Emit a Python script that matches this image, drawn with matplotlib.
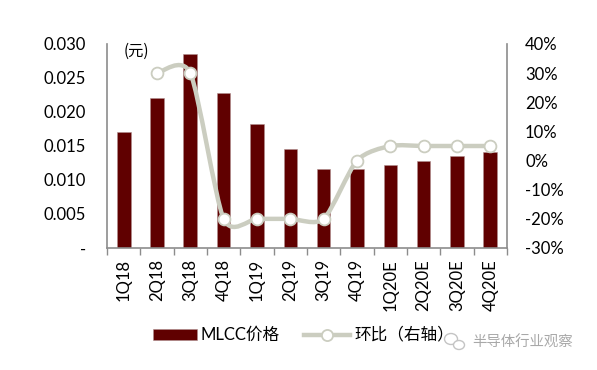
import numpy as np
import matplotlib
matplotlib.use('Agg')
import matplotlib.pyplot as plt
from matplotlib.path import Path
from matplotlib.patches import PathPatch, Rectangle, Ellipse
from matplotlib.lines import Line2D

quarters = ['1Q18','2Q18','3Q18','4Q18','1Q19','2Q19','3Q19','4Q19','1Q20E','2Q20E','3Q20E','4Q20E']
price = [0.0170,0.0220,0.0286,0.0228,0.0182,0.0146,0.0116,0.0116,0.0122,0.0128,0.0135,0.0141]
qoq = [None,30,30,-20,-20,-20,-20,0,5,5,5,5]
left_ticks = [0,0.005,0.010,0.015,0.020,0.025,0.030]
left_labels = ['-','0.005','0.010','0.015','0.020','0.025','0.030']
right_ticks = [-30,-20,-10,0,10,20,30,40]

BAR='#600000'; LINE='#CBCDC0'; AXIS='#8C8C8C'
LAT=['Lato','Noto Sans CJK SC']; CJK=['Noto Sans CJK SC','DejaVu Sans']
W,H=597,370
fig=plt.figure(figsize=(W/100,H/100),dpi=100,facecolor='white')
ax=fig.add_axes([107/W,1-248/H,400/W,204/H])
x=np.arange(12)
ax.bar(x,price,width=0.41,color=BAR,edgecolor='#B08F8F',linewidth=0.4,zorder=2)
ax.set_xlim(-.5,11.5); ax.set_ylim(0,0.03)
ax.set_yticks(left_ticks,left_labels,fontsize=12,family=LAT,color='black')
ax.set_xticks(np.arange(-.5,12,1),minor=False,labels=[])
ax.set_xticks(x,quarters,minor=True,rotation=90,fontsize=12,family=LAT,color='black')
ax.tick_params(axis='y',length=0,pad=15)
ax.tick_params(axis='x',which='major',length=5,width=1,color=AXIS,direction='out')
ax.tick_params(axis='x',which='minor',length=0,pad=8)
for s in ['top','right']: ax.spines[s].set_visible(False)
for s in ['left','bottom']:
    ax.spines[s].set_color(AXIS); ax.spines[s].set_linewidth(1.2)

ax2=ax.twinx()
ax2.set_ylim(-30,40)
ax2.set_yticks(right_ticks,[f'{v}%' for v in right_ticks],fontsize=12,family=LAT,color='black')
ax2.tick_params(axis='y',length=0,pad=13)
for s in ['top','left','bottom']: ax2.spines[s].set_visible(False)
ax2.spines['right'].set_color(AXIS); ax2.spines['right'].set_linewidth(1.2)

# Smoothed line: Bezier segments whose control points come from the data
xs=x[1:].astype(float); ys=np.array(qoq[1:],dtype=float)
verts=[(xs[0],ys[0])]; codes=[Path.MOVETO]
n=len(xs)
k=8.0
for i in range(n-1):
    p0=(xs[max(i-1,0)],ys[max(i-1,0)]); p1=(xs[i],ys[i]); p2=(xs[i+1],ys[i+1]); p3=(xs[min(i+2,n-1)],ys[min(i+2,n-1)])
    c1=(p1[0]+(p2[0]-p0[0])/k,p1[1]+(p2[1]-p0[1])/k)
    c2=(p2[0]-(p3[0]-p1[0])/k,p2[1]-(p3[1]-p1[1])/k)
    verts+=[c1,c2,p2]; codes+=[Path.CURVE4]*3
ax2.add_patch(PathPatch(Path(verts,codes),fill=False,edgecolor=LINE,linewidth=3.2,zorder=3,capstyle='round'))
ax2.plot(xs,ys,ls='none',marker='o',ms=8.5,mfc='white',mec=LINE,mew=1.3,zorder=4)

fig.text(124/W,1-51/H,'(元)',fontsize=11,family=CJK,ha='left',va='center',color='black')

# Legend
fig.add_artist(Rectangle((152.5/W,1-340/H),44/W,11/H,transform=fig.transFigure,facecolor=BAR,edgecolor='#B08F8F',linewidth=0.4))
fig.text(201/W,1-335/H,'MLCC价格',fontsize=12,family=LAT,ha='left',va='center',color='black')
fig.add_artist(Line2D([304/W,350/W],[1-335/H]*2,transform=fig.transFigure,color=LINE,lw=3.2))
fig.add_artist(Line2D([327/W],[1-335/H],transform=fig.transFigure,marker='o',ms=8,mfc='white',mec=LINE,mew=1.3))
fig.text(354/W,1-335/H,'环比（右轴）',fontsize=12,family=CJK,ha='left',va='center',color='black')

# Watermark
fig.add_artist(Ellipse((451/W,1-339/H),13/W,11/H,transform=fig.transFigure,facecolor='white',edgecolor='#C4C4C4',linewidth=1))
fig.add_artist(Ellipse((459/W,1-345/H),11/W,9/H,transform=fig.transFigure,facecolor='white',edgecolor='#C4C4C4',linewidth=1))
fig.text(472/W,1-343/H,'半导体行业观察',fontsize=10.4,family=CJK,ha='left',va='center',color='#A8A8A8')

fig.savefig('out.png',dpi=100)
